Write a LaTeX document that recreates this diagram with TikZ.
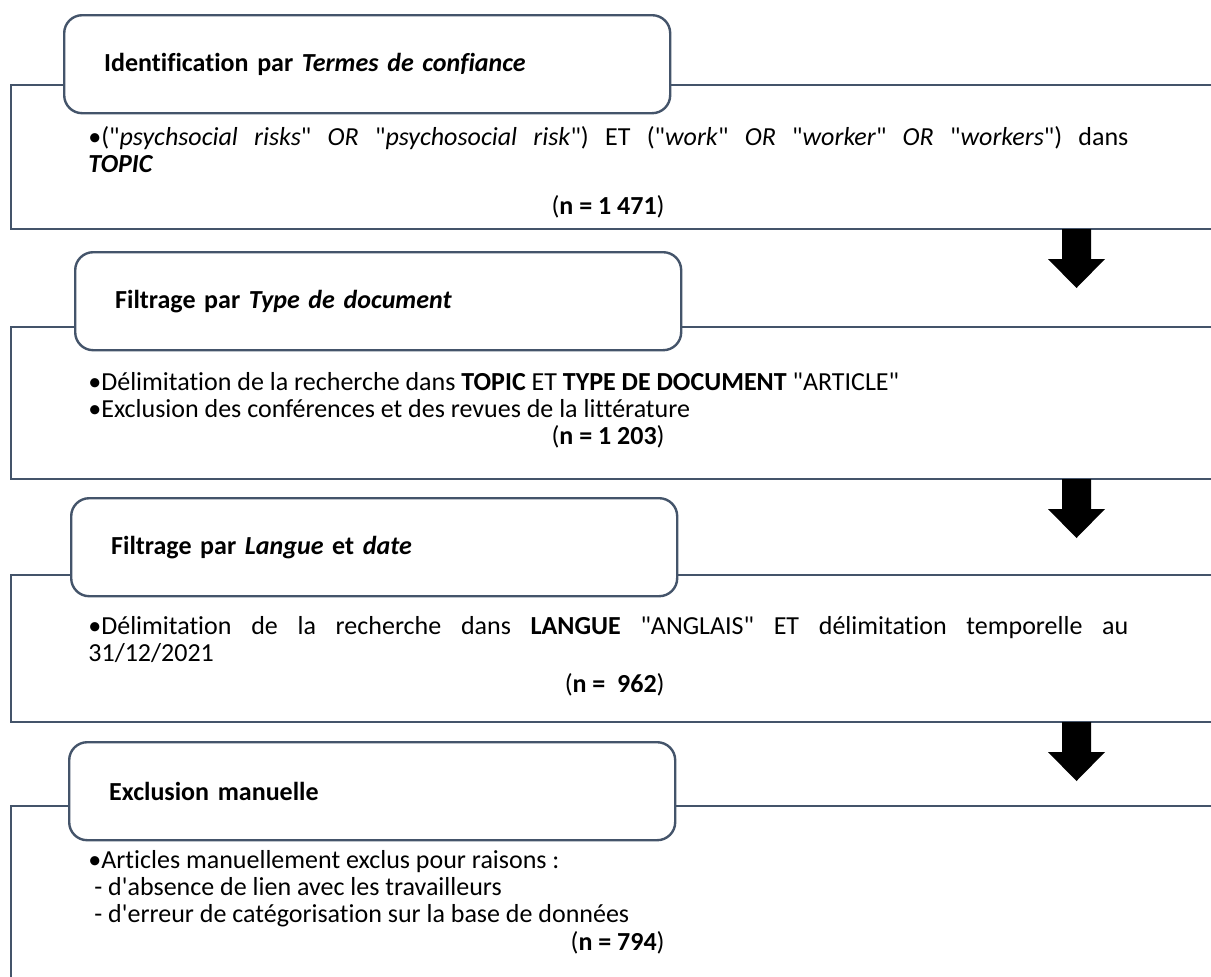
\documentclass[tikz,border=0pt]{standalone}
\usepackage{fontspec}
\setmainfont{Carlito}[Ligatures={TeXOff,NoCommon}]
\usepackage{tikz}

\definecolor{slate}{HTML}{44546A}
\tikzset{
  edge/.style={draw=slate, line width=1.2pt},
  stage/.style={edge, fill=white, rounded corners=9pt, anchor=north west,
    minimum height=49pt, text width=263pt, inner xsep=20pt, align=left,
    font=\fontsize{13}{13.5}\selectfont\bfseries},
  body/.style={anchor=base west, inner sep=0pt, text width=520pt, align=justify,
    font=\fontsize{13}{13.5}\selectfont},
  count/.style={anchor=base east, inner sep=0pt, font=\fontsize{13}{13.5}\selectfont},
}

\begin{document}
\begin{tikzpicture}[x=0.5pt, y=-0.5pt]
\useasboundingbox (0,0) rectangle (1211,976);
\clip (0,0) rectangle (1211,976);

% frames
\draw[edge] (1230,85) -- (11,85) -- (11,229) -- (1230,229);
\draw[edge] (1230,327) -- (11,327) -- (11,479) -- (1230,479);
\draw[edge] (1230,575) -- (11,575) -- (11,722) -- (1230,722);
\draw[edge] (1230,806) -- (11,806) -- (11,1000);

% block arrows
\foreach \y in {229,479,722}
  \fill (1062,\y) -- ++(29,0) -- ++(0,30) -- ++(14,0) -- ++(-28.5,29) -- ++(-28.5,-29) -- ++(14,0) -- cycle;

% headers
\node[stage] (h1) at (63,14) {Identification par \textit{Termes de confiance}};
\node[stage] (h2) at (74,251) {Filtrage par \textit{Type de document}};
\node[stage] (h3) at (70,497) {Filtrage par \textit{Langue} et \textit{date}};
\node[stage] (h4) at (68,741) {Exclusion manuelle};

% contents
\node[body] (t1) at (88,145) {•("\textit{psychsocial risks}" \textit{OR} "\textit{psychosocial risk}") ET ("\textit{work}" \textit{OR} "\textit{worker}" \textit{OR} "\textit{workers}") dans\linebreak \textbf{\textit{TOPIC}}};
\node[count] (n1) at (665,214) {(\textbf{n = 1 471})};

\node[body] (t2) at (88,390) {•Délimitation de la recherche dans \textbf{TOPIC} ET \textbf{TYPE DE DOCUMENT} "ARTICLE"\\
•Exclusion des conférences et des revues de la littérature};
\node[count] (n2) at (665,444) {(\textbf{n = 1 203})};

\node[body] (t3) at (88,634) {•Délimitation de la recherche dans \textbf{LANGUE} "ANGLAIS" ET délimitation temporelle au\linebreak 31/12/2021};
\node[count] (n3) at (665,692) {(\textbf{n = \ 962})};

\node[body] (t4) at (88,868) {•Articles manuellement exclus pour raisons :\\
\hspace*{3pt}- d'absence de lien avec les travailleurs\\
\hspace*{3pt}- d'erreur de catégorisation sur la base de données};
\node[count] (n4) at (665,950) {(\textbf{n = 794})};
\end{tikzpicture}
\end{document}
